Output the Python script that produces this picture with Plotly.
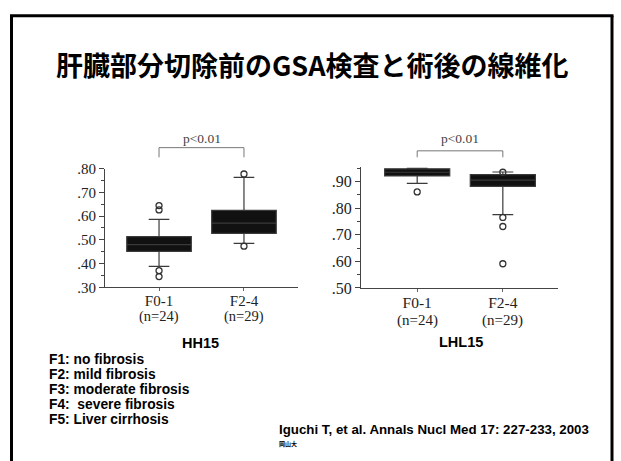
import plotly.graph_objects as go
from plotly.subplots import make_subplots

W, H = 621, 461

# ---- data -------------------------------------------------------------
groups = ["F0-1", "F2-4"]
group_n = [24, 29]
group_pos = [0, 1]

# HH15 box statistics
hh15_lower = [0.388, 0.485]
hh15_q1 = [0.451, 0.527]
hh15_median = [0.480, 0.570]
hh15_q3 = [0.513, 0.624]
hh15_upper = [0.586, 0.763]
hh15_out_f01 = [0.644, 0.626, 0.370, 0.345]
hh15_out_f24 = [0.777, 0.473]

# LHL15 box statistics
lhl15_lower = [0.893, 0.776]
lhl15_q1 = [0.921, 0.882]
lhl15_median = [0.935, 0.905]
lhl15_q3 = [0.948, 0.926]
lhl15_upper = [0.950, 0.936]
lhl15_out_f01 = [0.861]
lhl15_out_f24 = [0.935, 0.765, 0.731, 0.591]

hh15_ticks = [0.30, 0.40, 0.50, 0.60, 0.70, 0.80]
hh15_ticktext = [".30", ".40", ".50", ".60", ".70", ".80"]
lhl15_ticks = [0.50, 0.60, 0.70, 0.80, 0.90]
lhl15_ticktext = [".50", ".60", ".70", ".80", ".90"]

title_text = "肝臓部分切除前のGSA検査と術後の線維化"
stage_notes = [
    "F1: no fibrosis",
    "F2: mild fibrosis",
    "F3: moderate fibrosis",
    "F4:  severe fibrosis",
    "F5: Liver cirrhosis",
]
citation = "Iguchi T, et al. Annals Nucl Med 17: 227-233, 2003"
affiliation = "岡山大"


def px_x(v):
    return v / W


def px_y(v):
    return (H - v) / H


fig = make_subplots(rows=1, cols=2)

BOX_FILL = "#111111"
BOX_LINE = "#3a3a3a"
SERIF = "Liberation Serif, Times New Roman, serif"
SANS = "Liberation Sans, Arial, sans-serif"


def add_boxes(col, lower, q1, med, q3, upper, outs):
    fig.add_trace(
        go.Box(
            x=group_pos, lowerfence=lower, q1=q1, median=med, q3=q3,
            upperfence=upper, width=0.76, whiskerwidth=0.32,
            fillcolor=BOX_FILL, line=dict(color=BOX_LINE, width=1.2),
            boxpoints=False, showlegend=False, hoverinfo="skip",
        ),
        row=1, col=col,
    )
    for pos, vals in zip(group_pos, outs):
        fig.add_trace(
            go.Scatter(
                x=[pos] * len(vals), y=vals, mode="markers",
                marker=dict(symbol="circle-open", size=6, color="#333333",
                            line=dict(width=1.3)),
                showlegend=False, hoverinfo="skip", cliponaxis=False,
            ),
            row=1, col=col,
        )


add_boxes(1, hh15_lower, hh15_q1, hh15_median, hh15_q3, hh15_upper,
          [hh15_out_f01, hh15_out_f24])
add_boxes(2, lhl15_lower, lhl15_q1, lhl15_median, lhl15_q3, lhl15_upper,
          [lhl15_out_f01, lhl15_out_f24])

# axis geometry (pixels)
L_X0, L_X1, L_YT, L_YB = 105, 298, 166.7, 290
R_X0, R_X1, R_YT, R_YB = 361, 558, 165, 290.7

common_x = dict(showline=True, linecolor="#444444", linewidth=1.2,
                showgrid=False, zeroline=False, ticks="outside", ticklen=3,
                tickcolor="#666666", tickvals=group_pos, ticktext=groups,
                ticklabelstandoff=-3)
common_y = dict(showline=True, linecolor="#444444", linewidth=1.2,
                showgrid=False, zeroline=False, ticks="outside", ticklen=5,
                tickcolor="#444444",
                minor=dict(ticks="outside", ticklen=3, tickcolor="#444444",
                           dtick=0.05, showgrid=False))

fig.update_xaxes(common_x, row=1, col=1, range=[-0.636, 1.636],
                 domain=[px_x(L_X0), px_x(L_X1)],
                 tickfont=dict(family=SERIF, size=15, color="#222222"))
fig.update_xaxes(common_x, row=1, col=2, range=[-0.656, 1.644],
                 domain=[px_x(R_X0), px_x(R_X1)],
                 tickfont=dict(family=SERIF, size=15.5, color="#222222"))
fig.update_yaxes(common_y, row=1, col=1, range=[0.30, 0.80],
                 domain=[px_y(L_YB), px_y(L_YT)],
                 tickvals=hh15_ticks, ticktext=hh15_ticktext,
                 tickfont=dict(family=SERIF, size=15, color="#222222"))
fig.update_yaxes(common_y, row=1, col=2, range=[0.50, 0.955],
                 domain=[px_y(R_YB), px_y(R_YT)],
                 tickvals=lhl15_ticks, ticktext=lhl15_ticktext,
                 tickfont=dict(family=SERIF, size=16, color="#222222"))

shapes = []
annotations = []

# group sizes under the category labels
for xref, y_n, fsize in (("x", 320, 14.5), ("x2", 324, 15)):
    for pos, n in zip(group_pos, group_n):
        annotations.append(dict(
            xref=xref, yref="paper", x=pos, y=px_y(y_n), text=f"(n={n})",
            showarrow=False, xanchor="center", yanchor="middle",
            font=dict(family=SERIF, size=fsize, color="#222222"),
        ))

# significance brackets
for xref, y_top, y_bot, y_txt in (("x", 145, 155, 135), ("x2", 148.3, 155, 136)):
    shapes.append(dict(
        type="path", xref=xref, yref="paper",
        path=f"M 0,{px_y(y_bot)} L 0,{px_y(y_top)} L 1,{px_y(y_top)} L 1,{px_y(y_bot)}",
        line=dict(color="#777777", width=1),
    ))
    annotations.append(dict(
        xref=xref, yref="paper", x=0.5, y=px_y(y_txt), text="p<0.01",
        showarrow=False, xanchor="center", yanchor="middle",
        font=dict(family=SERIF, size=13.5, color="#444444"),
    ))

# panel names
for name, xc, yc in (("HH15", 200, 348), ("LHL15", 461, 347)):
    annotations.append(dict(
        xref="paper", yref="paper", x=px_x(xc), y=px_y(yc), text=f"<b>{name}</b>",
        showarrow=False, xanchor="center", yanchor="middle",
        font=dict(family=SANS, size=14.5, color="#000000"),
    ))

# title
annotations.append(dict(
    xref="paper", yref="paper", x=px_x(312), y=px_y(59), text=f"<b>{title_text}</b>",
    showarrow=False, xanchor="center", yanchor="middle",
    font=dict(family="Noto Sans CJK JP", size=27, color="#000000"),
))

# fibrosis stage notes
for i, note in enumerate(stage_notes):
    annotations.append(dict(
        xref="paper", yref="paper", x=px_x(47), y=px_y(365 + i * 15.5),
        text=f"<b>{note}</b>", showarrow=False, xanchor="left", yanchor="middle",
        font=dict(family=SANS, size=13.8, color="#000000"),
    ))

annotations.append(dict(
    xref="paper", yref="paper", x=px_x(277), y=px_y(438), text=f"<b>{citation}</b>",
    showarrow=False, xanchor="left", yanchor="middle",
    font=dict(family=SANS, size=13.3, color="#000000"),
))
annotations.append(dict(
    xref="paper", yref="paper", x=px_x(277), y=px_y(452), text=f"<b>{affiliation}</b>",
    showarrow=False, xanchor="left", yanchor="middle",
    font=dict(family="Noto Sans CJK JP", size=6, color="#000000"),
))

# slide frame (left, top, right edges)
frame = dict(color="#000000", width=3)
shapes += [
    dict(type="line", xref="paper", yref="paper", x0=px_x(11.5), x1=px_x(11.5),
         y0=px_y(8), y1=-0.05, line=frame),
    dict(type="line", xref="paper", yref="paper", x0=px_x(10), x1=px_x(613.5),
         y0=px_y(8), y1=px_y(8), line=frame),
    dict(type="line", xref="paper", yref="paper", x0=px_x(612), x1=px_x(612),
         y0=px_y(8), y1=-0.05, line=frame),
]

fig.update_layout(
    width=W, height=H, margin=dict(l=0, r=0, t=0, b=0),
    paper_bgcolor="white", plot_bgcolor="white",
    shapes=shapes, annotations=annotations, showlegend=False,
)

fig.write_html("out.html")
